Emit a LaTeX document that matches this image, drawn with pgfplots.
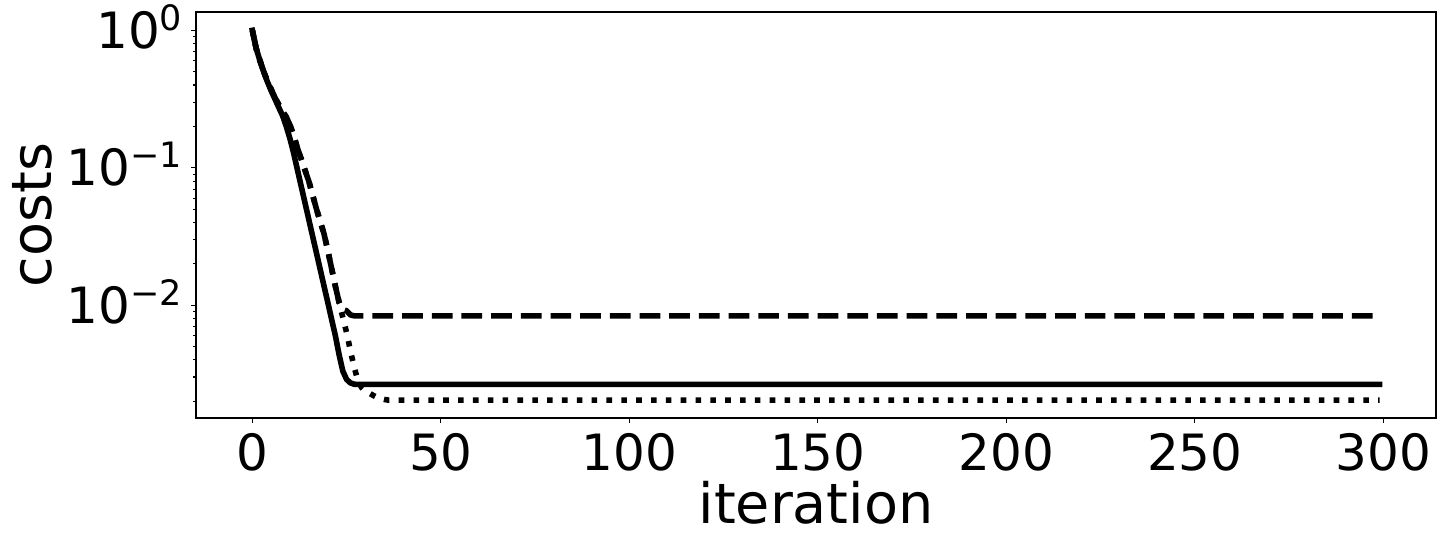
\documentclass[border=0pt]{standalone}
\usepackage{pgfplots}
\pgfplotsset{compat=1.18}
\usepackage{fontspec}
\setmainfont{DejaVu Sans}
\newcommand{\sups}[1]{\raisebox{9pt}{\fontsize{17.5}{17.5}\selectfont #1}}
\begin{document}
\begin{tikzpicture}
\begin{axis}[
  scale only axis,
  width=620pt, height=203pt,
  ymode=log,
  xmin=-14.95, xmax=313.95,
  ymin=0.00151, ymax=1.36,
  axis line style={line width=0.6pt},
  tick align=outside,
  tick style={line width=0.55pt, black},
  major tick length=2.45pt,
  minor tick length=1.4pt,
  xtick={0,50,100,150,200,250,300},
  xticklabels={0,50,100,150,200,250,300},
  minor x tick num=0,
  ytick={1,0.1,0.01},
  yticklabels={10\sups{0},10\sups{−1},10\sups{−2}},
  minor ytick={0.002,0.003,0.004,0.005,0.006,0.007,0.008,0.009,0.02,0.03,0.04,0.05,0.06,0.07,0.08,0.09,0.2,0.3,0.4,0.5,0.6,0.7,0.8,0.9},
  xtick pos=bottom, ytick pos=left,
  ticklabel style={font=\fontsize{25}{30}\selectfont},
  xticklabel style={anchor=base, inner sep=0pt, yshift=-23.75pt},
  yticklabel style={anchor=base east, inner sep=0pt, xshift=-4.3pt, yshift=-9.1pt},
  label style={font=\fontsize{27.8}{33}\selectfont},
  xlabel={iteration},
  ylabel={costs},
  xlabel style={at={([yshift=-52.5pt]axis description cs:0.5,0)}, anchor=base, inner sep=0pt},
  ylabel style={at={([xshift=-72pt]axis description cs:0,0.5)}, anchor=base, inner sep=0pt},
]
\addplot[black, line width=2.8pt, line cap=rect, line join=round] coordinates {
(0,1.0) (1,0.741) (2,0.603) (3,0.501) (4,0.422) (5,0.363) (6,0.316) (7,0.275) (8,0.240) (9,0.200)
(10,0.162) (11,0.126) (12,0.0955) (13,0.0724) (14,0.0550) (15,0.0417) (16,0.0316) (17,0.0240) (18,0.0182) (19,0.0138)
(20,0.0105) (21,0.00794) (22,0.00603) (23,0.00437) (24,0.00331) (25,0.00288) (26,0.00272) (27,0.00266) (28,0.00265) (299,0.00265)
};
\addplot[black, line width=2.8pt, line cap=butt, line join=round, dash pattern=on 10.36pt off 4.48pt] coordinates {
(0,1.0) (1,0.741) (2,0.603) (3,0.501) (4,0.427) (5,0.372) (6,0.324) (7,0.288) (8,0.257) (9,0.234)
(10,0.204) (11,0.170) (12,0.138) (13,0.115) (14,0.0955) (15,0.0794) (16,0.0631) (17,0.0501) (18,0.0407) (19,0.0331)
(20,0.0251) (21,0.0186) (22,0.0138) (23,0.0105) (24,0.0093) (25,0.0091) (26,0.0085) (27,0.00837) (299,0.00837)
};
\addplot[black, line width=2.8pt, line cap=butt, line join=round, dash pattern=on 2.8pt off 4.62pt] coordinates {
(0,1.0) (1,0.741) (2,0.603) (3,0.501) (4,0.427) (5,0.372) (6,0.324) (7,0.288) (8,0.257) (9,0.234)
(10,0.204) (11,0.170) (12,0.138) (13,0.115) (14,0.0955) (15,0.0794) (16,0.0631) (17,0.0501) (18,0.0407) (19,0.0331)
(20,0.0251) (21,0.0186) (22,0.0138) (23,0.0105) (24,0.00813) (25,0.00631) (26,0.00468) (27,0.00355) (28,0.00282) (29,0.00251)
(30,0.00237) (31,0.00229) (32,0.00221) (33,0.00214) (34,0.00209) (35,0.00206) (36,0.00204) (299,0.00204)
};
\end{axis}
\pgfresetboundingbox
\path (-98pt,-64.5pt) rectangle (625pt,209pt);
\end{tikzpicture}
\end{document}
